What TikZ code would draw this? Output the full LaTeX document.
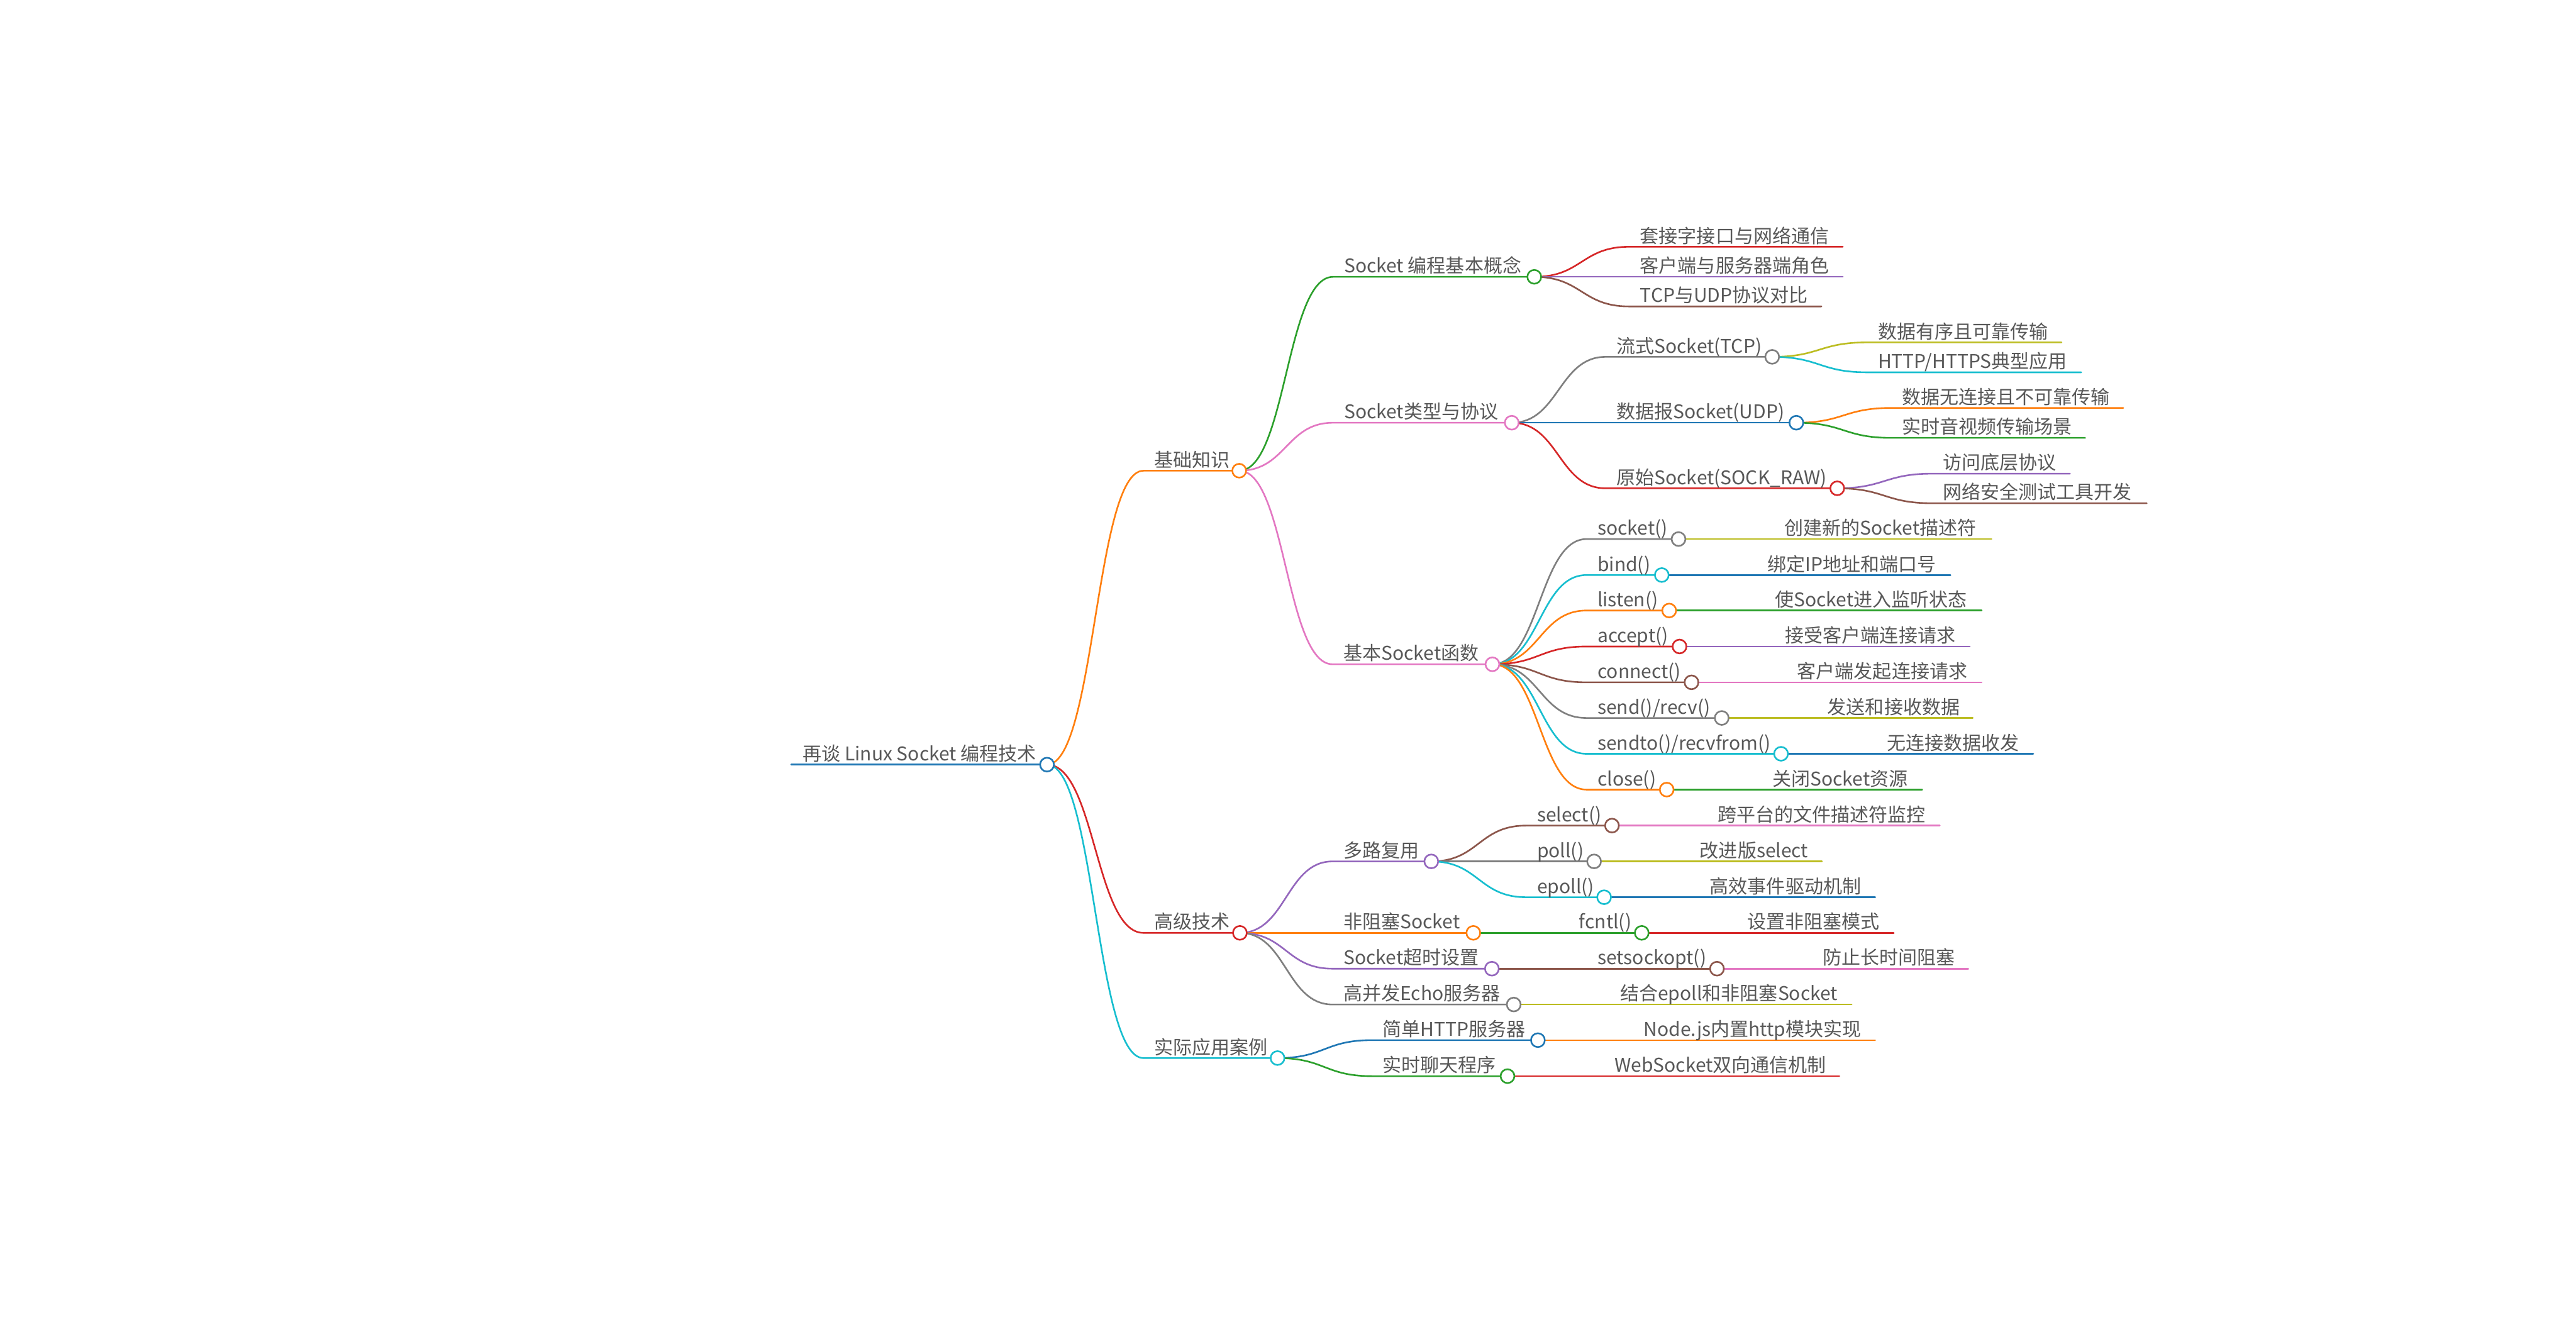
\documentclass[tikz,border=0pt]{standalone}
\usepackage{fontspec}
\setmainfont{Noto Sans CJK SC}
\usetikzlibrary{calc}
\definecolor{cblue}{HTML}{1F77B4}
\definecolor{corange}{HTML}{FF7F0E}
\definecolor{cgreen}{HTML}{2CA02C}
\definecolor{cred}{HTML}{D62728}
\definecolor{cpurple}{HTML}{9467BD}
\definecolor{cbrown}{HTML}{8C564B}
\definecolor{cpink}{HTML}{E377C2}
\definecolor{cgray}{HTML}{7F7F7F}
\definecolor{colive}{HTML}{BCBD22}
\definecolor{ccyan}{HTML}{17BECF}
\definecolor{txtgray}{HTML}{585858}
\tikzset{
  link/.style={line width=1pt, line cap=round},
  lbl/.style={font=\fontsize{11.5}{13}\selectfont, text=txtgray, inner sep=0pt, anchor=base west},
  dot/.style={line width=1pt},
}
% #1 name, #2 parent, #3 colour, #4 start x, #5 end x, #6 y, #7 text
\newcommand\mm[7]{%
  \coordinate (#1-s) at (#4,#6);
  \coordinate (#1-e) at (#5,#6);
  \draw[link,#3] (#2-e) .. controls ($(#2-e)!0.5!(#1-s |- #2-e)$) and ($(#1-s)!0.5!(#2-e |- #1-s)$) .. (#1-s) -- (#1-e);
  \node[lbl] (#1) at ([xshift=6.5pt,yshift=2.4pt]#1-s) {#7};
}
\newcommand\md[2]{\draw[dot,draw=#2,fill=white] (#1-e) circle[radius=4.2pt];}
\begin{document}
\begin{tikzpicture}[x=1pt,y=-1pt]
\fill[white] (0,0) rectangle (1568,815);
\useasboundingbox (0,0) rectangle (1568,815);
% root
\coordinate (R-s) at (481.6,465.4);
\coordinate (R-e) at (637.3,465.4);
\draw[link,cblue] (R-s) -- (R-e);
\node[lbl] (R) at ([xshift=6.8pt,yshift=2.4pt]R-s) {再谈 Linux Socket 编程技术};
% level 1
\mm{A}{R}{corange}{696}{754.3}{286.5}{基础知识}
\mm{B}{R}{cred}{696}{754.7}{567.8}{高级技术}
\mm{C}{R}{ccyan}{696}{777.6}{644}{实际应用案例}
% level 2
\mm{A1}{A}{cgreen}{811.4}{933.9}{168.5}{Socket 编程基本概念}
\mm{A2}{A}{cpink}{811.4}{920.2}{257.3}{Socket类型与协议}
\mm{A3}{A}{cpink}{811.1}{908.4}{404.3}{基本Socket函数}
\mm{B1}{B}{cpurple}{811.1}{871.2}{524.3}{多路复用}
\mm{B2}{B}{corange}{811.1}{896.8}{567.8}{非阻塞Socket}
\mm{B3}{B}{cpurple}{811.1}{908.1}{589.6}{Socket超时设置}
\mm{B4}{B}{cgray}{811.1}{921.4}{611.4}{高并发Echo服务器}
\mm{C1}{C}{cblue}{835}{936.1}{633.1}{简单HTTP服务器}
\mm{C2}{C}{cgreen}{835}{917.6}{655}{实时聊天程序}
% level 3 under A1
\mm{A11}{A1}{cred}{991.6}{1121.7}{150.2}{套接字接口与网络通信}
\mm{A12}{A1}{cpurple}{991.6}{1121.7}{168.5}{客户端与服务器端角色}
\mm{A13}{A1}{cbrown}{991.6}{1108.7}{186.5}{TCP与UDP协议对比}
% under A2
\mm{A21}{A2}{cgray}{977.3}{1078.7}{217.2}{流式Socket(TCP)}
\mm{A22}{A2}{cblue}{977.3}{1093.4}{257.3}{数据报Socket(UDP)}
\mm{A23}{A2}{cred}{977.3}{1118.3}{297.2}{原始Socket(SOCK\_RAW)}
\mm{A211}{A21}{colive}{1136.4}{1254.8}{208.4}{数据有序且可靠传输}
\mm{A212}{A21}{ccyan}{1136.4}{1266.8}{226.6}{HTTP/HTTPS典型应用}
\mm{A221}{A22}{corange}{1151.1}{1292.4}{248.3}{数据无连接且不可靠传输}
\mm{A222}{A22}{cgreen}{1151.1}{1269.2}{266.5}{实时音视频传输场景}
\mm{A231}{A23}{cpurple}{1176}{1260}{288.3}{访问底层协议}
\mm{A232}{A23}{cbrown}{1176}{1306.7}{306.3}{网络安全测试工具开发}
% under A3
\mm{F1}{A3}{cgray}{965.7}{1021.7}{328.1}{socket()}
\mm{F2}{A3}{ccyan}{965.7}{1011.5}{350}{bind()}
\mm{F3}{A3}{corange}{965.7}{1016}{371.6}{listen()}
\mm{F4}{A3}{cred}{965.7}{1022.3}{393.5}{accept()}
\mm{F5}{A3}{cbrown}{965.7}{1029.6}{415.3}{connect()}
\mm{F6}{A3}{cgray}{965.7}{1048}{437}{send()/recv()}
\mm{F7}{A3}{ccyan}{965.7}{1084.1}{458.8}{sendto()/recvfrom()}
\mm{F8}{A3}{corange}{965.7}{1014.5}{480.6}{close()}
\mm{F1a}{F1}{colive}{1079.4}{1212.2}{328.1}{创建新的Socket描述符}
\mm{F2a}{F2}{cblue}{1069.2}{1187.2}{350}{绑定IP地址和端口号}
\mm{F3a}{F3}{cgreen}{1073.7}{1206.2}{371.6}{使Socket进入监听状态}
\mm{F4a}{F4}{cpurple}{1080}{1199}{393.5}{接受客户端连接请求}
\mm{F5a}{F5}{cpink}{1087.3}{1206.2}{415.3}{客户端发起连接请求}
\mm{F6a}{F6}{colive}{1105.7}{1200.8}{437}{发送和接收数据}
\mm{F7a}{F7}{cblue}{1141.8}{1237.6}{458.8}{无连接数据收发}
\mm{F8a}{F8}{cgreen}{1072.2}{1170}{480.6}{关闭Socket资源}
% under B
\mm{B11}{B1}{cbrown}{928.9}{981.2}{502.5}{select()}
\mm{B12}{B1}{cgray}{928.9}{970.3}{524.3}{poll()}
\mm{B13}{B1}{ccyan}{928.9}{976.4}{546.1}{epoll()}
\mm{B11a}{B11}{cpink}{1038.9}{1180.7}{502.5}{跨平台的文件描述符监控}
\mm{B12a}{B12}{colive}{1028}{1109}{524.3}{改进版select}
\mm{B13a}{B13}{cblue}{1034.1}{1141.4}{546.1}{高效事件驱动机制}
\mm{B21}{B2}{cgreen}{954.5}{999.3}{567.8}{fcntl()}
\mm{B21a}{B21}{cred}{1057}{1152.7}{567.8}{设置非阻塞模式}
\mm{B31}{B3}{cbrown}{965.8}{1045.1}{589.6}{setsockopt()}
\mm{B31a}{B31}{cpink}{1102.8}{1198.1}{589.6}{防止长时间阻塞}
\mm{B41}{B4}{colive}{979.5}{1127.1}{611.4}{结合epoll和非阻塞Socket}
% under C
\mm{C11}{C1}{corange}{993.8}{1141.4}{633.1}{Node.js内置http模块实现}
\mm{C21}{C2}{cred}{976}{1119.6}{655}{WebSocket双向通信机制}
% circles
\md{R}{cblue}
\md{A}{corange}\md{B}{cred}\md{C}{ccyan}
\md{A1}{cgreen}\md{A2}{cpink}\md{A3}{cpink}
\md{B1}{cpurple}\md{B2}{corange}\md{B3}{cpurple}\md{B4}{cgray}
\md{C1}{cblue}\md{C2}{cgreen}
\md{A21}{cgray}\md{A22}{cblue}\md{A23}{cred}
\md{F1}{cgray}\md{F2}{ccyan}\md{F3}{corange}\md{F4}{cred}
\md{F5}{cbrown}\md{F6}{cgray}\md{F7}{ccyan}\md{F8}{corange}
\md{B11}{cbrown}\md{B12}{cgray}\md{B13}{ccyan}
\md{B21}{cgreen}\md{B31}{cbrown}
\end{tikzpicture}
\end{document}
